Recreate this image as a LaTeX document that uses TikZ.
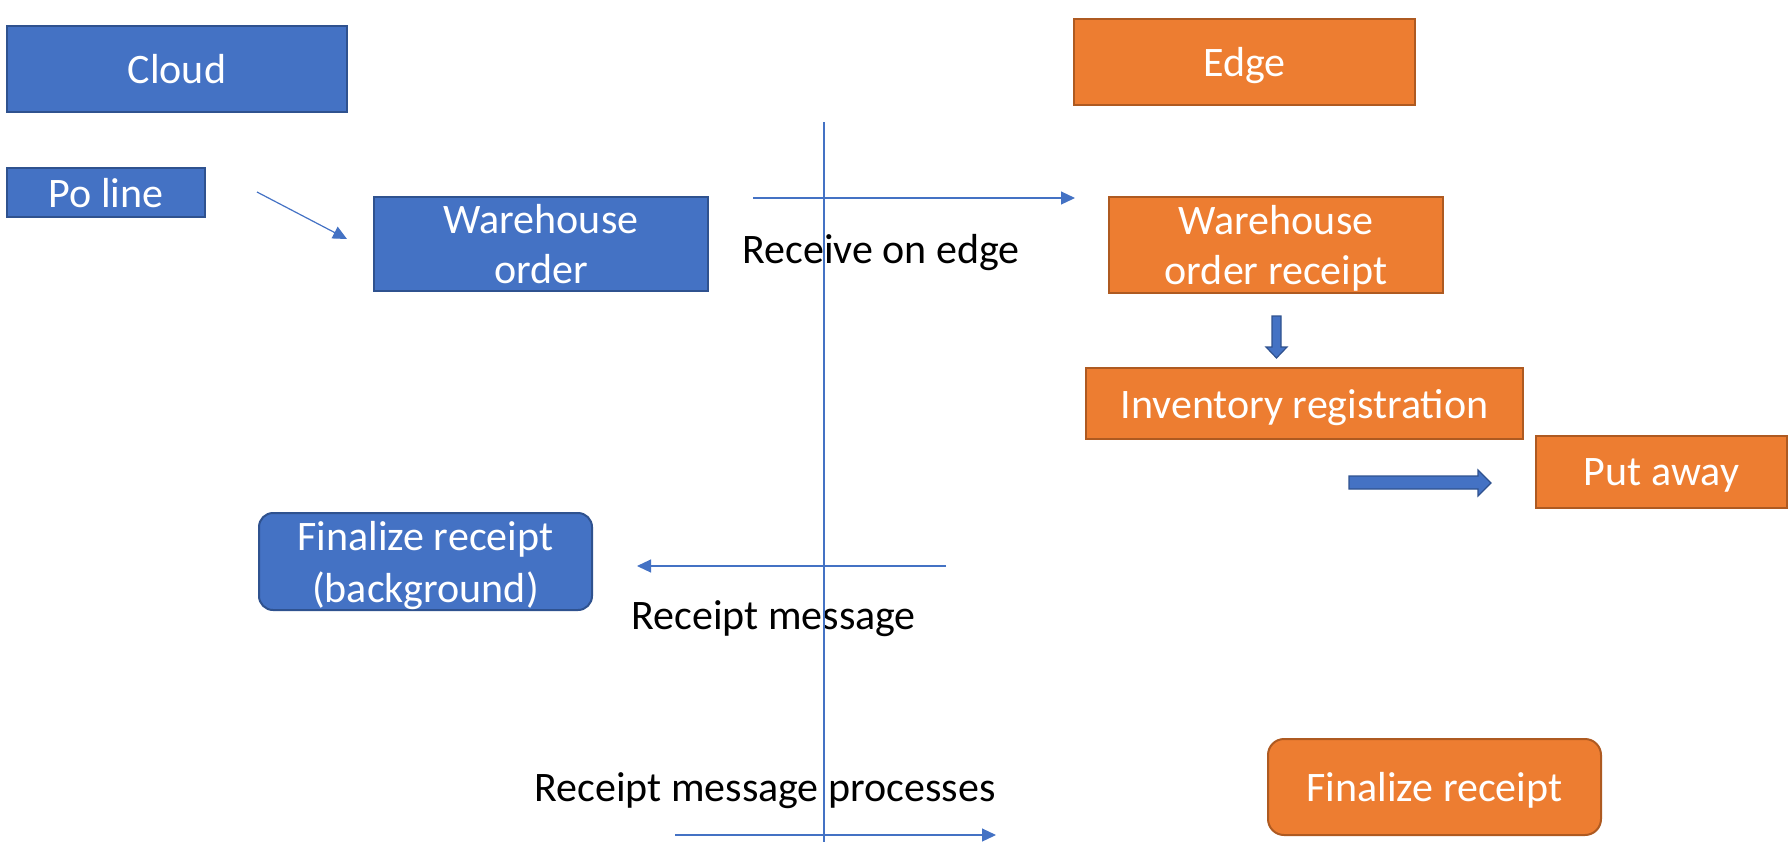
\documentclass[tikz,border=0pt]{standalone}
\usepackage{fontspec}
\setmainfont{Carlito}
\usetikzlibrary{arrows.meta}
\definecolor{cblue}{HTML}{4472C4}
\definecolor{cbluedk}{HTML}{2F528F}
\definecolor{corange}{HTML}{ED7D31}
\definecolor{corangedk}{HTML}{AE5A21}
\begin{document}
\begin{tikzpicture}[x=0.5pt,y=-0.5pt,
  txt/.style={font=\fontsize{21}{25}\selectfont},
  bluebox/.style={txt, fill=cblue, draw=cbluedk, line width=1pt, text=white, align=center, inner sep=0pt, text depth=0pt},
  orangebox/.style={txt, fill=corange, draw=corangedk, line width=1pt, text=white, align=center, inner sep=0pt, text depth=0pt},
  lbl/.style={txt, text=black, inner sep=0pt},
  thinarrow/.style={draw=cblue, line width=0.6pt, -{Triangle[length=7pt,width=6.5pt]}},
  blockarrow/.style={fill=cblue, draw=cbluedk, line width=0.6pt}]
\useasboundingbox (0,0) rectangle (1790,842);

\node[bluebox, minimum width=170pt, minimum height=43pt] (cloud) at (177,69) {Cloud};
\node[bluebox, minimum width=99pt, minimum height=24.5pt] (po) at (106,192.5) {Po line};
\node[bluebox, minimum width=167pt, minimum height=47pt] (wo) at (541,244) {Warehouse\\order};
\node[orangebox, minimum width=170.5pt, minimum height=43pt] (edge) at (1244.5,62) {Edge};
\node[orangebox, minimum width=167pt, minimum height=48pt] (wor) at (1276,245) {Warehouse\\order receipt};
\node[orangebox, minimum width=218.5pt, minimum height=35.5pt] (inv) at (1304.5,403.5) {Inventory registration};
\node[orangebox, minimum width=125.5pt, minimum height=36pt] (put) at (1661.5,472) {Put away};
\node[bluebox, rounded corners=7pt, minimum width=166.5pt, minimum height=48.5pt, font=\fontsize{21}{26}\selectfont] (finbg) at (425.5,561.5) {Finalize receipt\\(background)};
\node[orangebox, rounded corners=8pt, minimum width=166.5pt, minimum height=48pt] (finor) at (1434.5,787) {Finalize receipt};

\node[lbl, anchor=base west] (recv) at (742,263) {Receive on edge};
\node[lbl, anchor=base west] (rmsg) at (631,629) {Receipt message};
\node[lbl, anchor=base west] (rmp) at (534,801) {Receipt message processes};

\coordinate (v1) at (824,122);
\coordinate (v2) at (824,842);
\draw[cblue, line width=0.6pt] (v1) -- (v2);

\coordinate (pa) at (257,192);
\coordinate (pb) at (347,239);
\draw[thinarrow] (pa) -- (pb);

\coordinate (ra) at (753,198);
\coordinate (rb) at (1075,198);
\draw[thinarrow] (ra) -- (rb);

\coordinate (ma) at (946,566);
\coordinate (mb) at (637,566);
\draw[thinarrow] (ma) -- (mb);

\coordinate (ba) at (675,835);
\coordinate (bb) at (996,835);
\draw[thinarrow] (ba) -- (bb);

\draw[blockarrow] (1272,316) -- (1281,316) -- (1281,347) -- (1287,347) -- (1276.5,358) -- (1266,347) -- (1272,347) -- cycle;
\draw[blockarrow] (1349,476) -- (1478,476) -- (1478,470) -- (1491,483) -- (1478,496) -- (1478,489) -- (1349,489) -- cycle;
\end{tikzpicture}
\end{document}
